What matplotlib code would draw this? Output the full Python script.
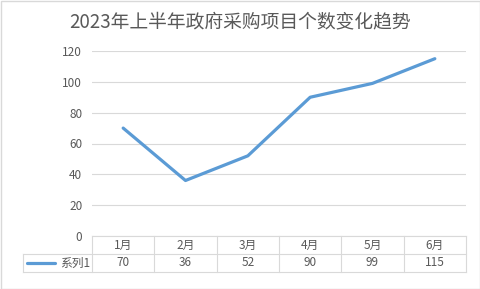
import matplotlib.pyplot as plt
from matplotlib.lines import Line2D
from matplotlib.patches import Rectangle

plt.rcParams['font.family'] = ['Noto Sans CJK SC', 'DejaVu Sans']

# chart data
months = ['1月', '2月', '3月', '4月', '5月', '6月']
counts = [70, 36, 52, 90, 99, 115]
series_name = '系列1'
title = '2023年上半年政府采购项目个数变化趋势'

line_color = '#5B9BD5'
grid_color = '#D9D9D9'
text_color = '#595959'

W, H = 481, 289
fig = plt.figure(figsize=(W / 100, H / 100), dpi=100)

# outer border
fig.patches.append(Rectangle((0.5 / W, 0.5 / H), 1 - 1.5 / W, 1 - 1.5 / H,
                             transform=fig.transFigure, fill=False,
                             edgecolor='#D9D9D9', linewidth=1))

# plot area in pixel coordinates
x0, x1 = 92, 466
y_top, y_zero = 51, 236
ax = fig.add_axes([x0 / W, 1 - y_zero / H, (x1 - x0) / W, (y_zero - y_top) / H])

ax.plot(range(len(months)), counts, color=line_color, linewidth=2.3,
        solid_capstyle='round', solid_joinstyle='round')
ax.set_xlim(-0.5, len(months) - 0.5)
ax.set_ylim(0, 120)
ax.set_yticks(range(0, 121, 20))
ax.set_xticks([])
ax.grid(axis='y', color=grid_color, linewidth=0.8)
ax.set_axisbelow(True)
for s in ax.spines.values():
    s.set_visible(False)
ax.tick_params(axis='y', length=0, pad=7, labelsize=8.5, labelcolor=text_color)

fig.text(0.5, 1 - 22 / H, title, ha='center', va='center',
         fontsize=13.5, color=text_color)

# data table below the plot
row1_top, row1_bot, row2_bot = 236, 254, 272
legend_left = 23
col_w = (x1 - x0) / len(months)


def fx(px):
    return px / W


def fy(py):
    return 1 - py / H


lw = 0.8
# horizontal lines
fig.add_artist(Line2D([fx(x0), fx(x1)], [fy(row1_top)] * 2, color=grid_color, lw=lw))
fig.add_artist(Line2D([fx(legend_left), fx(x1)], [fy(row1_bot)] * 2, color=grid_color, lw=lw))
fig.add_artist(Line2D([fx(legend_left), fx(x1)], [fy(row2_bot)] * 2, color=grid_color, lw=lw))
# vertical lines
fig.add_artist(Line2D([fx(legend_left)] * 2, [fy(row1_bot), fy(row2_bot)], color=grid_color, lw=lw))
for i in range(len(months) + 1):
    xp = x0 + i * col_w
    fig.add_artist(Line2D([fx(xp)] * 2, [fy(row1_top), fy(row2_bot)], color=grid_color, lw=lw))

for i, (m, v) in enumerate(zip(months, counts)):
    xc = x0 + (i + 0.5) * col_w
    fig.text(fx(xc), fy((row1_top + row1_bot) / 2), m, ha='center', va='center',
             fontsize=8.5, color=text_color)
    fig.text(fx(xc), fy((row1_bot + row2_bot) / 2), str(v), ha='center', va='center',
             fontsize=8.5, color=text_color)

# legend key
fig.add_artist(Line2D([fx(27), fx(55)], [fy((row1_bot + row2_bot) / 2)] * 2,
                      color=line_color, lw=2.3, solid_capstyle='round'))
fig.text(fx(90), fy((row1_bot + row2_bot) / 2), series_name, ha='right', va='center',
         fontsize=8.5, color=text_color)

fig.savefig('out.png', dpi=100)
